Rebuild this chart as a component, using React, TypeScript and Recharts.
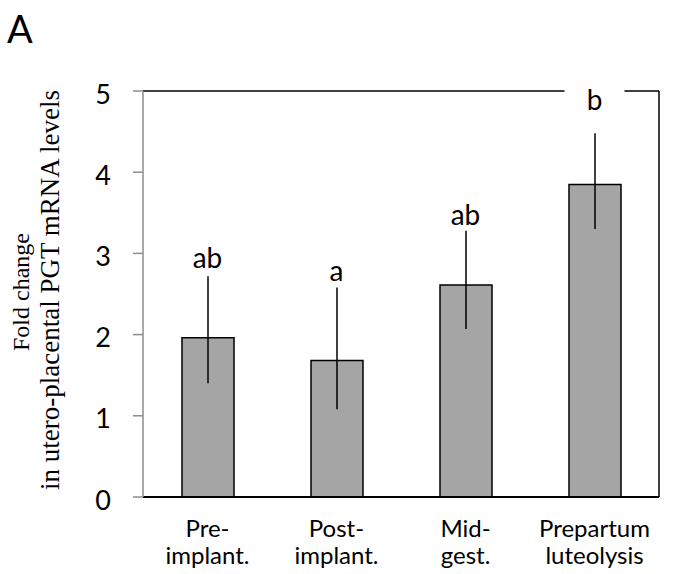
import { Bar, BarChart, ErrorBar, LabelList, Line, ReferenceLine, XAxis, YAxis } from "recharts";

const categories = ["Pre- implant.", "Post- implant.", "Mid- gest.", "Prepartum luteolysis"];
const foldChange = [1.96, 1.68, 2.61, 3.85];
const errLow = [0.56, 0.6, 0.54, 0.55];
const errHigh = [0.76, 0.9, 0.67, 0.63];
const letters = ["ab", "a", "ab", "b"];
const letterAt = [2.82, 2.66, 3.35, 4.76];
const yTicks = [0, 1, 2, 3, 4, 5];

const data = categories.map((name, i) => ({
  name,
  value: foldChange[i],
  err: [errLow[i], errHigh[i]],
  letter: letters[i],
  letterAt: letterAt[i],
}));

const sans = "Lato, 'Open Sans', sans-serif";
const serif = "'Liberation Serif', 'Times New Roman', serif";

function CategoryTick({ x, y, payload }: any) {
  const lines = String(payload.value).split(" ");
  return (
    <g>
      {lines.map((line, i) => (
        <text key={i} x={x} y={y + 40 + i * 27} textAnchor="middle" fontSize={24} fontFamily={sans} fill="#000">
          {line}
        </text>
      ))}
    </g>
  );
}

function LetterLabel({ x, y, value }: any) {
  if (x == null || y == null) return null;
  return (
    <g>
      <rect x={x - 30} y={y - 26} width={60} height={30} fill="#fff" />
      <text x={x} y={y} textAnchor="middle" fontSize={28} fontFamily={sans} fill="#000">
        {value}
      </text>
    </g>
  );
}

export default function App() {
  return (
    <div style={{ position: "absolute", left: 0, top: 0, width: 679, height: 574, background: "#fff" }}>
      <BarChart width={679} height={574} data={data} margin={{ top: 91, right: 19, bottom: 0, left: 0 }}>
        <XAxis
          dataKey="name"
          height={77}
          tickLine={false}
          tickSize={0}
          tickMargin={0}
          axisLine={{ stroke: "#000", strokeWidth: 2 }}
          tick={<CategoryTick />}
          interval={0}
        />
        <YAxis
          width={143}
          domain={[0, 5]}
          ticks={yTicks}
          tickSize={10}
          tickMargin={22}
          axisLine={{ stroke: "#8c8c8c", strokeWidth: 1.5 }}
          tickLine={{ stroke: "#8c8c8c", strokeWidth: 1.5 }}
          tick={{ fill: "#000", fontSize: 27, fontFamily: sans, dy: 3 }}
        />
        <YAxis
          yAxisId="right"
          orientation="right"
          width={1}
          domain={[0, 5]}
          ticks={yTicks}
          tick={false}
          tickLine={false}
          axisLine={{ stroke: "#000", strokeWidth: 1.5 }}
        />
        <ReferenceLine y={5} stroke="#000" strokeWidth={1.5} />
        <Bar dataKey="value" fill="#a5a5a5" stroke="#000" strokeWidth={1.5} barSize={52} isAnimationActive={false}>
          <ErrorBar dataKey="err" width={0} stroke="#000" strokeWidth={1.5} />
        </Bar>
        <Line
          yAxisId="right"
          dataKey="letterAt"
          stroke="none"
          dot={false}
          activeDot={false}
          isAnimationActive={false}
        >
          <LabelList dataKey="letter" content={<LetterLabel />} />
        </Line>
      </BarChart>
      <svg width={679} height={574} style={{ position: "absolute", left: 0, top: 0, pointerEvents: "none" }}>
        <text x={7} y={43} fontSize={38} fontFamily={sans} fill="#000">
          A
        </text>
        <text
          x={21}
          y={292}
          transform="rotate(-90 21 292)"
          textAnchor="middle"
          dominantBaseline="central"
          fontSize={24}
          fontFamily={serif}
          fill="#000"
        >
          Fold change
        </text>
        <text
          x={50}
          y={290}
          transform="rotate(-90 50 290)"
          textAnchor="middle"
          dominantBaseline="central"
          fontSize={27}
          fontFamily={serif}
          fill="#000"
        >
          in utero-placental PGT mRNA levels
        </text>
      </svg>
    </div>
  );
}
